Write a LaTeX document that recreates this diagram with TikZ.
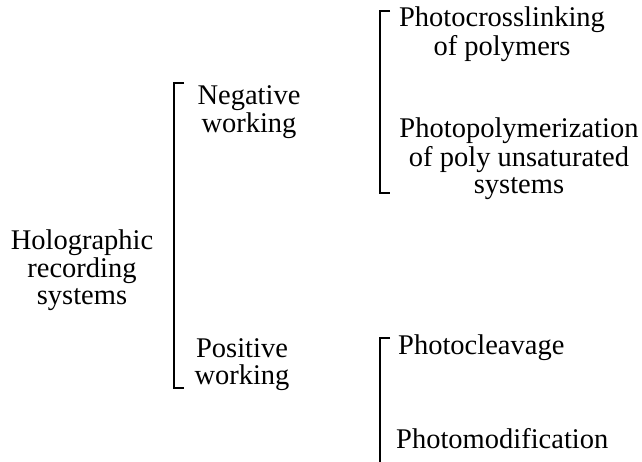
\documentclass[tikz,border=0pt]{standalone}
\usepackage{fontspec}
\setmainfont{Liberation Serif}
\begin{document}
\begin{tikzpicture}[x=1pt,y=-1pt,
  lbl/.style={inner sep=0pt, anchor=base, font=\fontsize{28.5}{27}\selectfont},
  lblw/.style={lbl, anchor=base west},
  brk/.style={line width=2pt, line cap=butt}]
\useasboundingbox (0,0) rectangle (642,462);
\newcommand{\stk}[1]{\begin{tabular}[t]{@{}c@{}}#1\end{tabular}}
% left column
\node[lbl] (holo) at (82,250) {\stk{Holographic\\recording\\systems}};
% middle
\node[lbl] (neg) at (249,105) {\stk{Negative\\working}};
\node[lbl] (pos) at (242,357) {\stk{Positive\\working}};
% right
\node[lbl] (pcl) at (502,27) {\stk{Photocrosslinking\\of polymers}};
\node[lbl] (ppz) at (519,138) {\stk{Photopolymerization\\of poly unsaturated\\systems}};
\node[lblw] (pcv) at (398,354) {Photocleavage};
\node[lblw] (pmd) at (396,448) {Photomodification};
% brackets
\coordinate (b1t) at (174,83);  \coordinate (b1b) at (174,388);
\coordinate (b2t) at (380,11);  \coordinate (b2b) at (380,193);
\coordinate (b3t) at (380,338); \coordinate (b3b) at (380,470);
\draw[brk] ([xshift=10pt]b1t) -- (b1t) -- (b1b) -- ([xshift=10pt]b1b);
\draw[brk] ([xshift=10pt]b2t) -- (b2t) -- (b2b) -- ([xshift=10pt]b2b);
\draw[brk] ([xshift=10pt]b3t) -- (b3t) -- (b3b);
\end{tikzpicture}
\end{document}
